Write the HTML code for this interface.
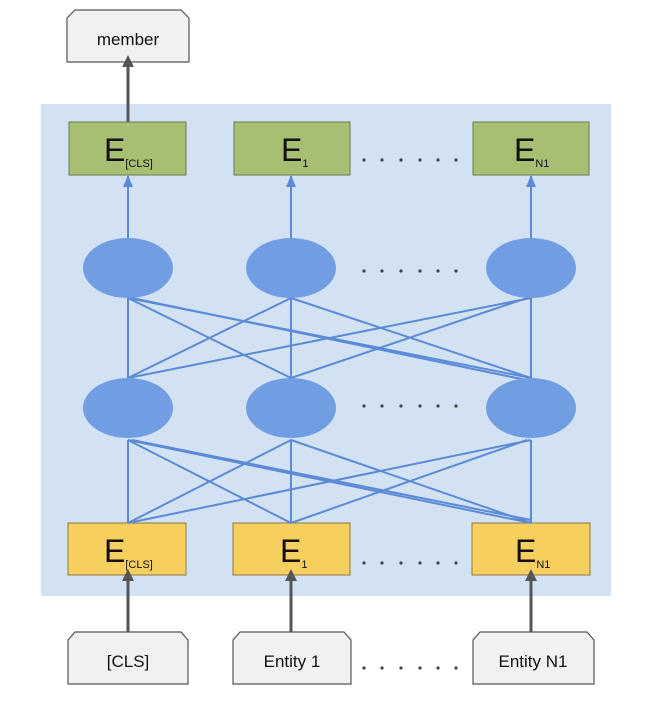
<!DOCTYPE html>
<html><head><meta charset="utf-8"><style>
html,body{margin:0;padding:0;background:#fff;}
svg{display:block;}
text{font-family:"Liberation Sans",sans-serif;fill:#111;}
.e{font-family:"Liberation Sans Narrow","Liberation Sans",sans-serif;}
</style></head><body>
<svg width="650" height="708" viewBox="0 0 650 708" xmlns="http://www.w3.org/2000/svg">
<defs>
<marker id="ab" markerWidth="12" markerHeight="10" refX="11" refY="5" orient="auto" markerUnits="userSpaceOnUse" viewBox="0 0 12 10"><path d="M0,0 L12,5 L0,10 Z" fill="#5b8ad6"/></marker>
<marker id="ag" markerWidth="12" markerHeight="12" refX="6" refY="11" markerUnits="userSpaceOnUse" viewBox="0 0 12 12"><path d="M0,12 L6,0 L12,12 Z" fill="#555"/></marker>
</defs>
<rect x="41" y="104" width="570" height="492" fill="#d3e2f3"/>
<path d="M67,62 V18 L75,10 H181 L189,18 V62 Z" fill="#f1f1f1" stroke="#555" stroke-width="1.2"/>
<text x="128" y="45" font-size="17" text-anchor="middle">member</text>
<line x1="128" y1="122" x2="128" y2="66" stroke="#555" stroke-width="3" marker-end="url(#ag)"/>
<g fill="#a7bf72" stroke="#6a7a55" stroke-width="1">
<rect x="69" y="122" width="117" height="53"/>
<rect x="234" y="122" width="116" height="53"/>
<rect x="473" y="122" width="116" height="53"/>
</g>
<g font-size="32" class="e">
<text class="e" x="104" y="161">E<tspan font-size="11" dy="6">[CLS]</tspan></text>
<text class="e" x="281" y="161">E<tspan font-size="11" dy="6">1</tspan></text>
<text class="e" x="514" y="161">E<tspan font-size="11" dy="6">N1</tspan></text>
</g>
<g fill="#f6cf5f" stroke="#8a7a40" stroke-width="1">
<rect x="68" y="523" width="118" height="52"/>
<rect x="233" y="523" width="117" height="52"/>
<rect x="472" y="523" width="118" height="52"/>
</g>
<g font-size="32">
<text class="e" x="104" y="562">E<tspan font-size="11" dy="6">[CLS]</tspan></text>
<text class="e" x="280" y="562">E<tspan font-size="11" dy="6">1</tspan></text>
<text class="e" x="515" y="562">E<tspan font-size="11" dy="6">N1</tspan></text>
</g>
<g stroke="#5b8ad6" stroke-width="2" fill="none">
<line x1="128" y1="298" x2="128" y2="378"/><line x1="291" y1="298" x2="291" y2="378"/><line x1="531" y1="298" x2="531" y2="378"/>
<line x1="128" y1="298" x2="291" y2="378"/><line x1="128" y1="298" x2="531" y2="378"/><line x1="132" y1="298" x2="531" y2="381"/>
<line x1="291" y1="298" x2="128" y2="378"/><line x1="291" y1="298" x2="531" y2="378"/>
<line x1="531" y1="298" x2="128" y2="378"/><line x1="527" y1="298" x2="291" y2="378"/>
<line x1="128" y1="440" x2="128" y2="523"/><line x1="291" y1="440" x2="291" y2="523"/><line x1="531" y1="440" x2="531" y2="523"/>
<line x1="128" y1="440" x2="291" y2="523"/><line x1="128" y1="440" x2="531" y2="523"/><line x1="132" y1="440" x2="531" y2="520"/>
<line x1="291" y1="440" x2="128" y2="523"/><line x1="291" y1="440" x2="531" y2="523"/>
<line x1="531" y1="440" x2="128" y2="523"/><line x1="527" y1="440" x2="291" y2="523"/>
<line x1="128" y1="240" x2="128" y2="176" marker-end="url(#ab)"/>
<line x1="291" y1="240" x2="291" y2="176" marker-end="url(#ab)"/>
<line x1="531" y1="240" x2="531" y2="176" marker-end="url(#ab)"/>
</g>
<g fill="#719de2">
<ellipse cx="128" cy="268" rx="45" ry="30"/><ellipse cx="291" cy="268" rx="45" ry="30"/><ellipse cx="531" cy="268" rx="45" ry="30"/>
<ellipse cx="128" cy="408" rx="45" ry="30"/><ellipse cx="291" cy="408" rx="45" ry="30"/><ellipse cx="531" cy="408" rx="45" ry="30"/>
</g>
<g fill="#444">
<g transform="translate(0,160)"><circle cx="364" r="1.6"/><circle cx="382" r="1.6"/><circle cx="401" r="1.6"/><circle cx="420" r="1.6"/><circle cx="438" r="1.6"/><circle cx="456" r="1.6"/></g>
<g transform="translate(0,271)"><circle cx="364" r="1.6"/><circle cx="382" r="1.6"/><circle cx="401" r="1.6"/><circle cx="420" r="1.6"/><circle cx="438" r="1.6"/><circle cx="456" r="1.6"/></g>
<g transform="translate(0,406)"><circle cx="364" r="1.6"/><circle cx="382" r="1.6"/><circle cx="401" r="1.6"/><circle cx="420" r="1.6"/><circle cx="438" r="1.6"/><circle cx="456" r="1.6"/></g>
<g transform="translate(0,563)"><circle cx="364" r="1.6"/><circle cx="382" r="1.6"/><circle cx="401" r="1.6"/><circle cx="420" r="1.6"/><circle cx="438" r="1.6"/><circle cx="456" r="1.6"/></g>
<g transform="translate(0,668)"><circle cx="364" r="1.6"/><circle cx="382" r="1.6"/><circle cx="401" r="1.6"/><circle cx="420" r="1.6"/><circle cx="438" r="1.6"/><circle cx="456" r="1.6"/></g>
</g>
<g stroke="#555" stroke-width="3">
<line x1="128" y1="632" x2="128" y2="580" marker-end="url(#ag)"/>
<line x1="291" y1="632" x2="291" y2="580" marker-end="url(#ag)"/>
<line x1="531" y1="632" x2="531" y2="580" marker-end="url(#ag)"/>
</g>
<g fill="#f1f1f1" stroke="#555" stroke-width="1.2">
<path d="M68,684 V640 L75,632 H181 L188,640 V684 Z"/>
<path d="M233,684 V640 L240,632 H344 L351,640 V684 Z"/>
<path d="M473,684 V640 L480,632 H587 L594,640 V684 Z"/>
</g>
<g font-size="17" text-anchor="middle">
<text x="128" y="667">[CLS]</text>
<text x="292" y="667">Entity 1</text>
<text x="533" y="667">Entity N1</text>
</g>
</svg>
</body></html>
